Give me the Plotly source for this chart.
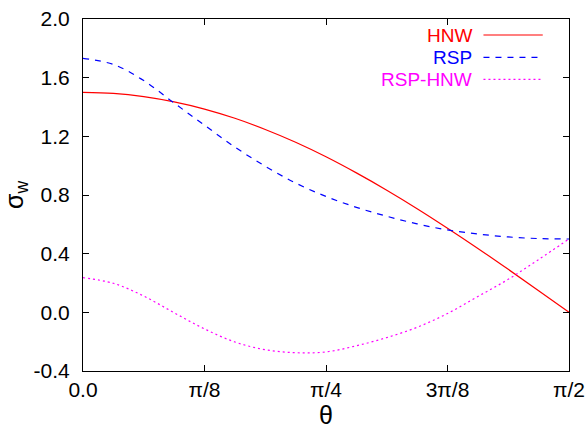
import numpy as np
import plotly.graph_objects as go

# theta sampled in steps of pi/32 (units of pi/8: 0, 0.25, ..., 4)
theta_steps = [0, 0.25, 0.5, 0.75, 1.0, 1.25, 1.5, 1.75, 2.0, 2.25, 2.5, 2.75, 3.0, 3.25, 3.5, 3.75, 4.0]
theta = [s * np.pi / 8 for s in theta_steps]

hnw = [1.500, 1.493, 1.471, 1.435, 1.386, 1.323, 1.247, 1.160, 1.061, 0.951, 0.833, 0.707,
       0.574, 0.436, 0.293, 0.147, 0.000]
rsp = [1.732, 1.690, 1.580, 1.427, 1.276, 1.127, 0.996, 0.882, 0.790, 0.716, 0.655, 0.603,
       0.562, 0.534, 0.514, 0.503, 0.500]
rsp_hnw = [0.236, 0.198, 0.111, -0.003, -0.113, -0.202, -0.255, -0.275, -0.270, -0.228,
           -0.172, -0.102, -0.008, 0.108, 0.225, 0.360, 0.500]

series_names = ["HNW", "RSP", "RSP-HNW"]
series_data = [hnw, rsp, rsp_hnw]
colors = ["#ff0000", "#0000ff", "#ff00ff"]
dashes = ["solid", "6px,6px", "2px,3px"]

x_tickvals = [0, np.pi / 8, np.pi / 4, 3 * np.pi / 8, np.pi / 2]
x_ticktext = ["0.0", "π/8", "π/4", "3π/8", "π/2"]
y_tickvals = [-0.4, 0.0, 0.4, 0.8, 1.2, 1.6, 2.0]
y_ticktext = ["-0.4", "0.0", "0.4", "0.8", "1.2", "1.6", "2.0"]

FONT = "Liberation Sans, Arial, Helvetica, sans-serif"
FS = 21

fig = go.Figure()
for name, ys, c, d in zip(series_names, series_data, colors, dashes):
    fig.add_trace(go.Scatter(x=theta, y=ys, mode="lines", name=name,
                             line=dict(color=c, width=1.2, dash=d, shape="spline"),
                             showlegend=False))

# legend imitation: text on left, line sample on right
leg_y = [0.9545, 0.891, 0.8285]
for name, c, d, yy in zip(series_names, colors, dashes, leg_y):
    fig.add_annotation(x=0.798, y=yy, xref="paper", yref="paper", text=name,
                       showarrow=False, xanchor="right", yanchor="middle",
                       borderpad=0, xshift=2,
                       font=dict(family=FONT, size=19, color=c))
    fig.add_shape(type="line", xref="paper", yref="paper", x0=0.824, x1=0.946,
                  y0=yy, y1=yy, line=dict(color=c, width=1.2, dash=d))

fig.update_layout(
    width=587, height=429,
    margin=dict(l=83, r=18, t=19, b=58),
    paper_bgcolor="white", plot_bgcolor="white",
    font=dict(family=FONT, size=FS, color="black"),
    xaxis=dict(range=[0, np.pi / 2], tickvals=x_tickvals, ticktext=x_ticktext,
               ticks="inside", ticklen=6, tickcolor="black", showline=True,
               linecolor="black", linewidth=1.2, mirror="ticks", showgrid=False,
               zeroline=False, title=dict(text="θ", standoff=2),
               tickfont=dict(size=FS), automargin=False),
    yaxis=dict(range=[-0.4, 2.0], tickvals=y_tickvals, ticktext=y_ticktext,
               ticks="inside", ticklen=6, tickcolor="black", showline=True,
               linecolor="black", linewidth=1.2, mirror="ticks", showgrid=False,
               zeroline=False, title=dict(text="σ<sub>w</sub>", standoff=4),
               tickfont=dict(size=FS), ticklabelstandoff=8, automargin=False),
)

fig.write_html("out.html")
